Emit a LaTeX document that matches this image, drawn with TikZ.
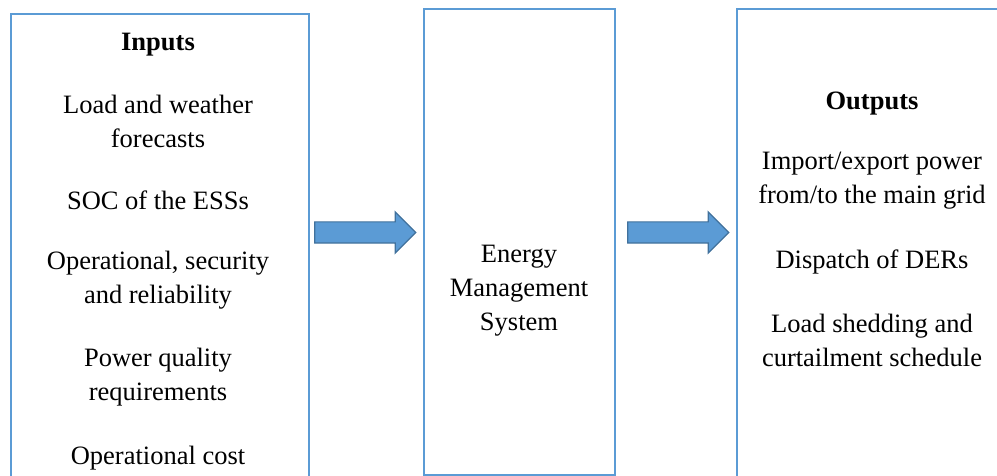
\documentclass[tikz,border=0pt]{standalone}
\usepackage{fontspec}
\setmainfont{Liberation Serif}
\usetikzlibrary{shapes.arrows}

\definecolor{boxblue}{HTML}{5B9BD5}
\definecolor{arrowedge}{HTML}{41719C}

\tikzset{
  panel/.style={draw=boxblue, line width=2pt},
  txt/.style={align=center, font=\fontsize{26.5}{34}\selectfont, inner sep=0pt},
  head/.style={txt, font=\fontsize{26.5}{34}\selectfont\bfseries},
  blockarrow/.style={single arrow, fill=boxblue, draw=arrowedge, line width=1.2pt,
    inner sep=10pt, single arrow head extend=10pt, minimum height=101pt,
    single arrow tip angle=90}
}

\begin{document}
\begin{tikzpicture}[x=1pt,y=-1pt]
\useasboundingbox (0,0) rectangle (997,476);
\clip (0,0) rectangle (997,476);

\node (inbox) [panel, minimum width=298pt, minimum height=520pt, anchor=north west] at (10,13) {};
\node (emsbox) [panel, minimum width=191pt, minimum height=466pt, anchor=north west] at (423,8) {};
\node (outbox) [panel, minimum width=300pt, minimum height=520pt, anchor=north west] at (736,8) {};

\node (intitle) [head] at (158,45) {Inputs};
\node (forecast) [txt] at (158,121) {Load and weather\\forecasts};
\node (soc) [txt] at (158,200) {SOC of the ESSs};
\node (security) [txt] at (158,280) {Operational, security\\and reliability};
\node (quality) [txt] at (158,377) {Power quality\\requirements};
\node (cost) [txt] at (158,458) {Operational cost};

\node (ems) [txt] at (519,291) {Energy\\Management\\System};

\node (outtitle) [head] at (872,104) {Outputs};
\node (power) [txt] at (872,181) {Import/export power\\from/to the main grid};
\node (dispatch) [txt] at (872,262) {Dispatch of DERs};
\node (shedding) [txt] at (872,340) {Load shedding and\\curtailment schedule};

\node (arrin) [blockarrow] at (360,232.5) {};
\node (arrout) [blockarrow] at (673,232.5) {};

\end{tikzpicture}
\end{document}
